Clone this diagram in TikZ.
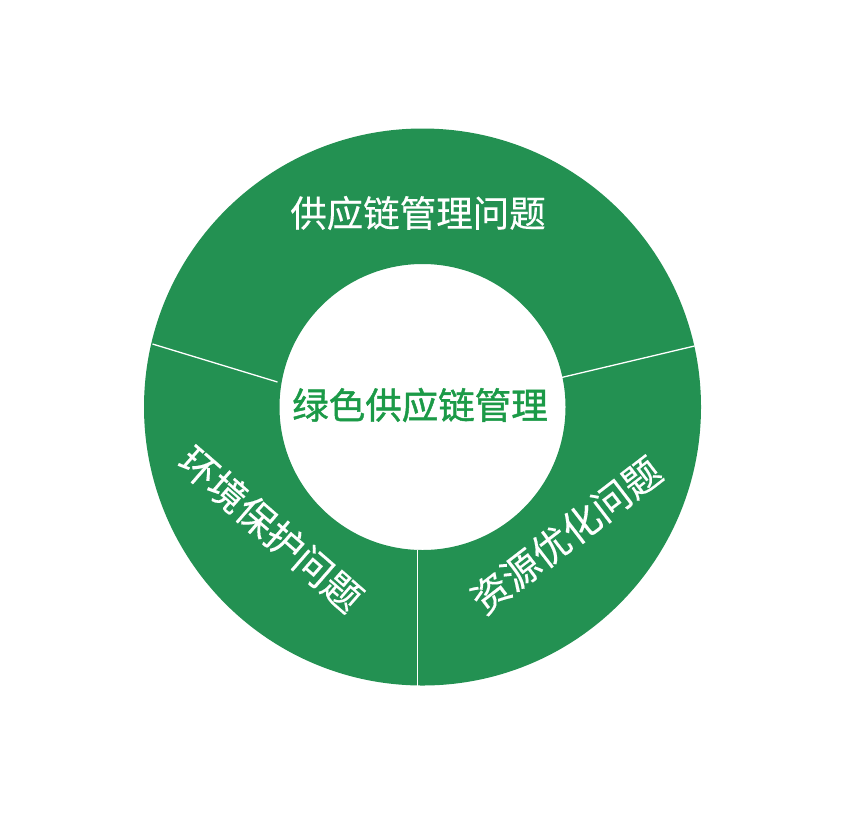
\documentclass[tikz,border=0pt]{standalone}
\usepackage{fontspec}
\newfontfamily\cjk[FakeBold=0.3]{Noto Sans CJK SC}
\newfontfamily\cjkmid[FakeBold=1.2]{Noto Sans CJK SC}
\definecolor{ringgreen}{RGB}{35,145,82}
\definecolor{textgreen}{RGB}{27,154,71}
\tikzset{
  ring/.style={fill=ringgreen, even odd rule},
  divider/.style={draw=white, line width=1.3pt},
  seglabel/.style={text=white, inner sep=0pt, font=\cjk\fontsize{36.5}{40}\selectfont},
  centerlabel/.style={text=textgreen, inner sep=0pt, font=\cjkmid\fontsize{36.5}{40}\selectfont},
}
\begin{document}
\begin{tikzpicture}[x=1pt,y=-1pt]
\useasboundingbox (0,0) rectangle (858,817);
\coordinate (c) at (422.5,407);
\fill[ring] (c) circle (278.5pt) (c) circle (143pt);
% dividers
\coordinate (lo) at (152.5,344);
\coordinate (li) at (277.5,382);
\coordinate (ro) at (694.5,346);
\coordinate (ri) at (561.5,377.5);
\coordinate (bo) at (417.7,685.5);
\coordinate (bi) at (417.7,549.5);
\draw[divider] (lo) -- (li);
\draw[divider] (ri) -- (ro);
\draw[divider] (bi) -- (bo);
% labels
\node[seglabel] (top) at (418,213) {供应链管理问题};
\node[centerlabel] (mid) at (420,405) {绿色供应链管理};
\node[seglabel, rotate=-41, font=\cjk\fontsize{38}{40}\selectfont] (left) at (271,529) {环境保护问题};
\node[seglabel, rotate=37.5, font=\cjk\fontsize{38}{40}\selectfont] (right) at (566,535) {资源优化问题};
\end{tikzpicture}
\end{document}
